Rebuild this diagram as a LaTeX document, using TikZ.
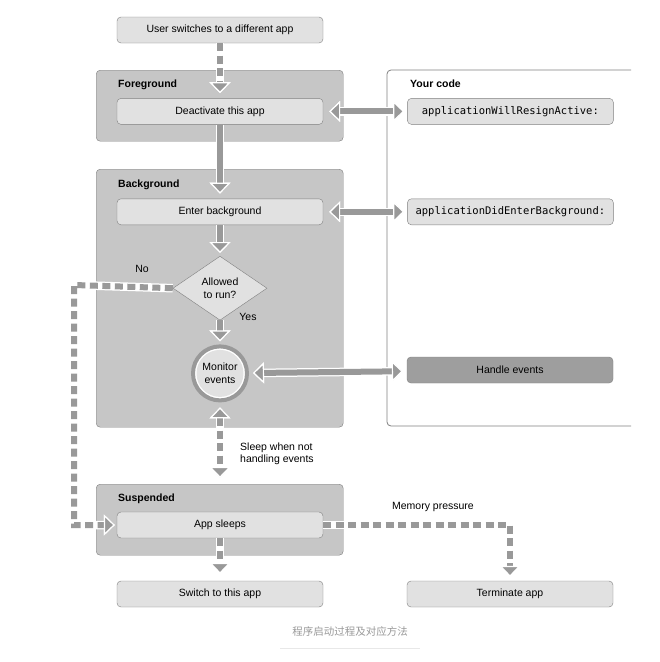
\documentclass[tikz,border=0pt]{standalone}
\usepackage{fontspec}
\setmainfont{Liberation Sans}
\setmonofont{DejaVu Sans Mono}
\newfontfamily\cjk{Noto Sans CJK SC}
\usetikzlibrary{positioning, arrows.meta, shapes.geometric}

\definecolor{panelgray}{HTML}{C6C6C6}
\definecolor{boxgray}{HTML}{E1E1E1}
\definecolor{edgegray}{HTML}{808080}
\definecolor{arrgray}{HTML}{999999}
\definecolor{darkbox}{HTML}{9E9E9E}
\definecolor{captiongray}{HTML}{999999}
\definecolor{rulegray}{HTML}{E8E8E8}

\tikzset{Head/.tip={Triangle[length=11pt, width=21pt, line width=1.2pt, color=white, fill=arrgray]}}

\begin{document}
\begin{tikzpicture}[x=1pt, y=-1pt,
  font=\fontsize{10.5}{12.5}\selectfont,
  panel/.style={draw=edgegray, fill=panelgray, rounded corners=4pt, minimum width=247pt,
    anchor=north west, inner sep=0pt},
  paneltitle/.style={anchor=west, inner sep=0pt, font=\fontsize{10.5}{12.5}\selectfont\bfseries},
  stage/.style={draw=edgegray, fill=boxgray, rounded corners=4pt, minimum width=206pt,
    minimum height=26pt, inner sep=0pt},
  codebox/.style={stage, font=\fontsize{10.5}{12.5}\selectfont\ttfamily},
  choice/.style={diamond, draw=edgegray, fill=boxgray, minimum width=94pt, minimum height=64pt,
    inner sep=0pt, align=center},
  loopnode/.style={circle, draw=arrgray, line width=4pt, fill=white, minimum size=54pt,
    inner sep=0pt, align=center,
    path picture={\fill[boxgray] (path picture bounding box.center) circle (23.5pt);}},
  arr/.style={draw=arrgray, line width=6pt, preaction={draw=white, line width=8.5pt, solid}},
  flow/.style={arr, -Head},
  dflow/.style={arr, -Head, dash pattern=on 8pt off 4.5pt},
  link/.style={arr, Head-Head},
  dlink/.style={arr, Head-Head, dash pattern=on 8pt off 4.5pt},
  note/.style={inner sep=0pt}
]
  \useasboundingbox[fill=white] (0,0) rectangle (660,662);

  % state panels
  \node[panel, minimum height=71pt] (fg) at (96,70) {};
  \node[panel, minimum height=258pt] (bg) at (96,169) {};
  \node[panel, minimum height=71pt] (susp) at (96,484) {};
  \node[paneltitle] at ([shift={(22,15)}]fg.north west) {Foreground};
  \node[paneltitle] at ([shift={(22,16)}]bg.north west) {Background};
  \node[paneltitle] at ([shift={(22,15)}]susp.north west) {Suspended};

  % your code panel
  \draw[edgegray, line width=0.8pt, rounded corners=4pt] (631,70) -| (387,426) -- (631,426);
  \node[paneltitle] at (410,84) {Your code};

  % app column
  \node[stage] (user) at (220,30) {User switches to a different app};
  \node[stage, below=55pt of user] (deact) {Deactivate this app};
  \node[stage, below=74pt of deact] (enter) {Enter background};
  \node[choice, below=31pt of enter] (allow) {Allowed\\to run?};
  \node[loopnode, below=24pt of allow] (monitor) {Monitor\\events};
  \node[stage] (sleeps) at (220,525) {App sleeps};
  \node[stage] (switch) at (220,594) {Switch to this app};
  \node[stage] (term) at (510,594) {Terminate app};

  % delegate calls
  \node[codebox, right=84pt of deact] (resign) {applicationWillResignActive:};
  \node[codebox, right=84pt of enter] (didbg) {applicationDidEnterBackground:};
  \node[stage, fill=darkbox] (handle) at (510,370) {Handle events};

  % labels
  \node[note] (nolabel) at (142,269) {No};
  \node[note] (yeslabel) at (248,317) {Yes};
  \node[note, anchor=west, align=left] (sleeplabel) at (240,454) {Sleep when not\\handling events};
  \node[note] (memlabel) at (433,507) {Memory pressure};

  \coordinate (nocorner) at (74,285);

  \draw[dflow, shorten >=5pt] (user) -- (deact);
  \draw[flow, shorten >=5pt] (deact) -- (enter);
  \draw[flow, shorten >=3pt] (enter) -- (allow);
  \draw[flow, shorten >=3pt] (allow) -- (monitor);
  \draw[link, shorten <=6pt, shorten >=3pt] (deact) -- (resign);
  \draw[link, shorten <=6pt, shorten >=3pt] (enter) -- (didbg);
  \draw[link, shorten <=4pt, shorten >=4pt] (monitor) -- (handle);
  \draw[dlink, shorten <=5pt, shorten >=6pt] (monitor) -- (monitor |- susp.north);
  \draw[dflow, shorten >=2pt] (allow.west) -- (nocorner) |- (sleeps.west);
  \draw[dflow, shorten >=7pt] (sleeps) -- (switch);
  \draw[dflow, shorten >=4pt] (sleeps.east) -| (term.north);

  % caption
  \node[font=\cjk\fontsize{10.5}{12.5}\selectfont, text=captiongray] (caption) at (350,631) {程序启动过程及对应方法};
  \draw[rulegray, line width=0.8pt] (280,648) -- (420,648);
\end{tikzpicture}
\end{document}
